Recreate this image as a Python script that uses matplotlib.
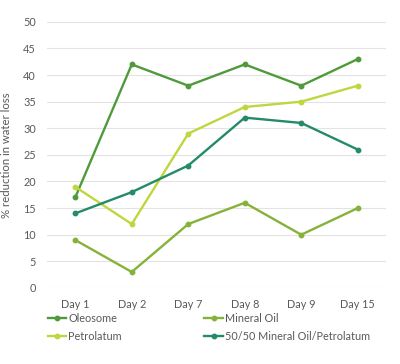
import matplotlib.pyplot as plt
from matplotlib.lines import Line2D

plt.rcParams["font.family"] = ["Lato", "DejaVu Sans"]

days = ["Day 1", "Day 2", "Day 7", "Day 8", "Day 9", "Day 15"]
oleosome = [17, 42, 38, 42, 38, 43]
mineral_oil = [9, 3, 12, 16, 10, 15]
petrolatum = [19, 12, 29, 34, 35, 38]
mix_5050 = [14, 18, 23, 32, 31, 26]

series = [
    ("Oleosome", oleosome, "#4f9a3a"),
    ("Mineral Oil", mineral_oil, "#86b23a"),
    ("Petrolatum", petrolatum, "#bfd63f"),
    ("50/50 Mineral Oil/Petrolatum", mix_5050, "#248a6a"),
]

fig = plt.figure(figsize=(4.0, 3.64), dpi=100)
ax = fig.add_axes([0.1175, 0.209, 0.8475, 0.731])

x = list(range(len(days)))
for name, vals, col in series:
    ax.plot(x, vals, color=col, lw=1.7, marker="o", ms=3.2, label=name)

ax.set_xlim(-0.5, len(days) - 0.5)
ax.set_ylim(0, 50)
ax.set_yticks(range(0, 51, 5))
ax.set_xticks(x)
ax.set_xticklabels(days)
ax.grid(axis="y", color="#e3e3e3", lw=0.8)
ax.set_axisbelow(True)
for s in ax.spines.values():
    s.set_visible(False)
ax.tick_params(length=0, labelsize=7.8, colors="#595959", pad=8)
ax.set_ylabel("% reduction in water loss", fontsize=8.2, color="#595959", labelpad=8)

# legend filled column-wise, so order it to read row by row
order = [0, 2, 1, 3]
handles = [Line2D([0], [0], color=series[i][2], lw=1.7, marker="o", ms=3.2) for i in order]
labels = [series[i][0] for i in order]
fig.legend(handles, labels, loc="upper left",
           bbox_to_anchor=(0.095, 0.168), ncol=2, frameon=False,
           fontsize=7.8, labelcolor="#595959", handlelength=1.7,
           handletextpad=0.2, columnspacing=7.6, labelspacing=0.65)

fig.savefig("out.png", dpi=100)
